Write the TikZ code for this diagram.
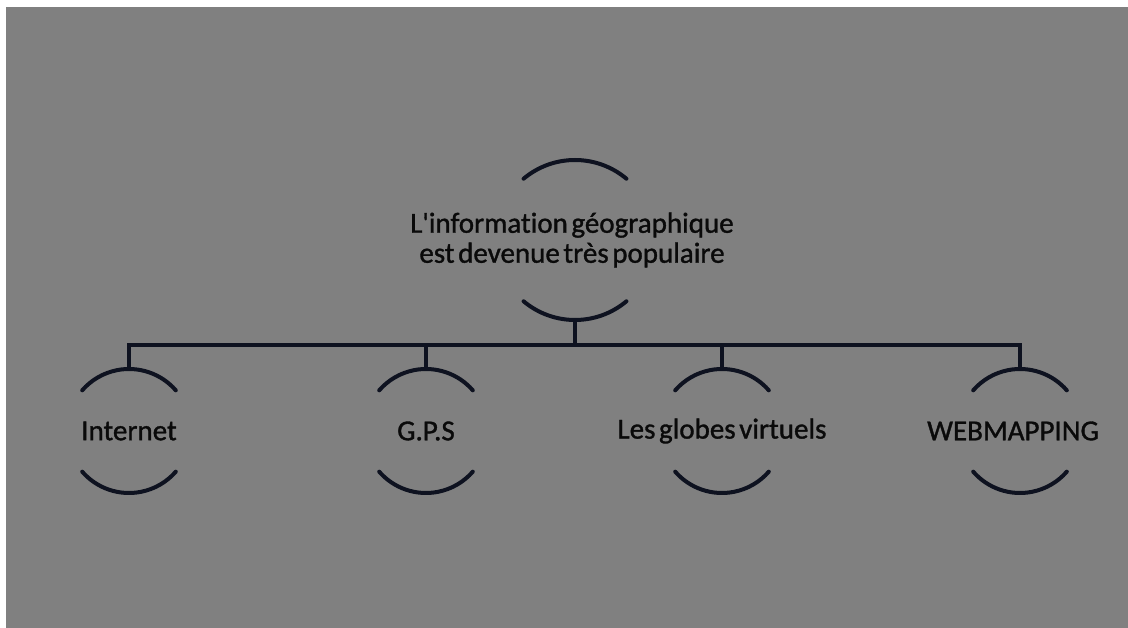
\documentclass[tikz,border=0pt]{standalone}
\usepackage{fontspec}
\setmainfont{Carlito}[Ligatures=NoCommon,WordSpace=0.55]
\newfontfamily\thickfont{Carlito}[Ligatures=NoCommon,WordSpace=0.55,FakeBold=1.2]
\usetikzlibrary{calc,shapes}

\definecolor{bggrey}{HTML}{808080}
\definecolor{inkline}{HTML}{0E1220}
\definecolor{inktext}{HTML}{0A0A0A}

\begin{document}
\begin{tikzpicture}[line join=miter]
 \tikzstyle{ring}=[circle,inner sep=0pt,outer sep=0pt,minimum size=124bp]
 \tikzstyle{bigring}=[ring,minimum size=160bp]
 \tikzstyle{caption}=[text=inktext,font=\thickfont\fontsize{29bp}{30bp}\selectfont,align=center,inner sep=0pt]
 \tikzstyle{edge}=[draw=inkline,line width=4bp]
 \useasboundingbox (0,0) rectangle (1128bp,628bp);
 \fill[white] (0,0) rectangle (1128bp,628bp);
 \fill[bggrey] (6bp,0) rectangle (1128bp,621bp);

 \node (info) at (575bp,388bp) [bigring] {};
 \node (internet) at (129bp,197bp) [ring] {};
 \node (gps) at (426bp,197bp) [ring] {};
 \node (globes) at (722bp,197bp) [ring] {};
 \node (webmap) at (1020bp,197bp) [ring] {};

 \node (infotext) at (572bp,388bp) [caption] {L\symbol{"27}information géographique\\est devenue très populaire};
 \node (internettext) at (internet.center) [caption] {Internet};
 \node (gpstext) at (gps.center) [caption] {G.P.S};
 \node (globestext) at (globes.center) [caption] {Les globes virtuels};
 \node (webmaptext) at (1013bp,197bp) [caption] {WEBMAPPING};

 % half circles round the texts
 \draw[edge,line cap=round] (info.50) arc (50:130:80bp);
 \draw[edge,line cap=round] (info.230) arc (230:310:80bp);
 \draw[edge,line cap=round] (internet.41) arc (41:139:62bp);
 \draw[edge,line cap=round] (internet.221) arc (221:319:62bp);
 \draw[edge,line cap=round] (gps.41) arc (41:139:62bp);
 \draw[edge,line cap=round] (gps.221) arc (221:319:62bp);
 \draw[edge,line cap=round] (globes.41) arc (41:139:62bp);
 \draw[edge,line cap=round] (globes.221) arc (221:319:62bp);
 \draw[edge,line cap=round] (webmap.41) arc (41:139:62bp);
 \draw[edge,line cap=round] (webmap.221) arc (221:319:62bp);

 % tree
 \coordinate (bar) at ($(info.south)+(0,-25bp)$);
 \draw[edge] (info.south) -- (bar);
 \draw[edge] (bar) -| (internet.north);
 \draw[edge] (bar) -| (webmap.north);
 \draw[edge] (gps.north) -- (gps.north |- bar);
 \draw[edge] (globes.north) -- (globes.north |- bar);
\end{tikzpicture}
\end{document}
